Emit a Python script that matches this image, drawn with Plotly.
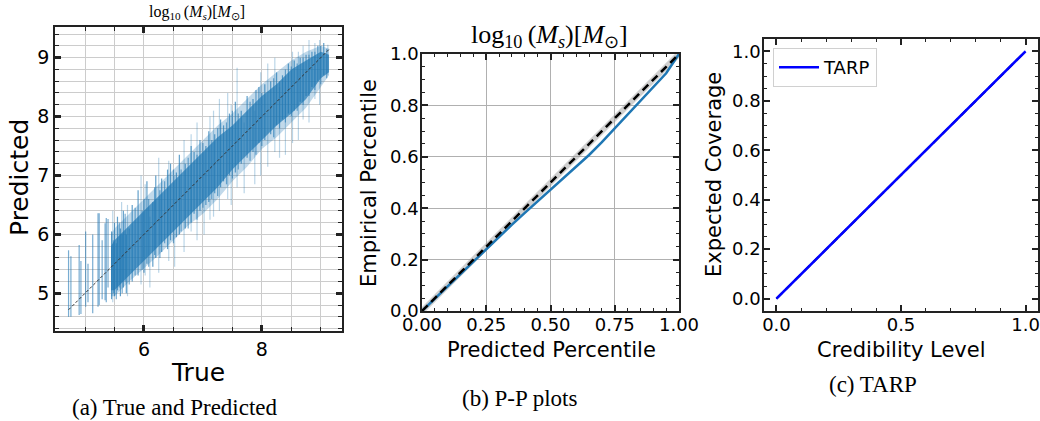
import plotly.graph_objects as go

W, H = 1040, 421
C0 = "31,119,180"

# ---------------- Panel (a): True vs Predicted ----------------
true_range = [4.72, 9.14]

band_x = [5.44, 5.5, 5.75, 6.0, 6.25, 6.5, 6.75, 7.0, 7.25, 7.5, 7.75, 8.0, 8.25, 8.5, 8.75, 9.0, 9.14]
core_lo = [5.05, 5.05, 5.3, 5.55, 5.8, 6.05, 6.3, 6.55, 6.8, 7.1, 7.35, 7.6, 7.85, 8.05, 8.3, 8.65, 8.75]
core_hi = [5.8, 5.9, 6.15, 6.4, 6.65, 6.9, 7.15, 7.4, 7.65, 7.85, 8.1, 8.35, 8.55, 8.8, 8.95, 9.1, 9.05]
mid_lo = [4.95, 4.95, 5.2, 5.42, 5.65, 5.9, 6.15, 6.35, 6.6, 6.9, 7.15, 7.45, 7.65, 7.9, 8.15, 8.5, 8.7]
mid_hi = [6.0, 6.1, 6.35, 6.6, 6.85, 7.1, 7.35, 7.6, 7.85, 8.05, 8.3, 8.55, 8.75, 8.95, 9.1, 9.2, 9.15]

# individual uncertainty bars (true value, lower, upper)
sparse_x = [4.72, 4.76, 4.90, 4.93, 5.01, 5.05, 5.13, 5.22, 5.24, 5.29, 5.34, 5.36, 5.39]
sparse_lo = [4.60, 4.60, 4.63, 4.65, 4.77, 4.85, 4.66, 4.77, 4.80, 4.90, 4.88, 4.85, 5.10]
sparse_hi = [5.73, 5.63, 5.82, 5.55, 6.05, 5.50, 6.00, 6.36, 6.36, 5.90, 6.19, 6.28, 6.26]

dark_x = [5.45, 5.5, 5.55, 5.6, 5.65, 5.7, 5.8, 5.9, 6.0, 6.05, 6.15, 6.2, 6.3, 6.4, 6.45,
          6.55, 6.6, 6.7, 6.8, 6.85, 6.95, 7.05, 7.1, 7.2, 7.3, 7.35, 7.45, 7.55, 7.65, 7.75,
          7.85, 7.95, 8.05, 8.15, 8.25, 8.35, 8.45, 8.55, 8.65, 8.75, 8.85, 8.95, 9.05]
dark_lo = [4.9, 4.95, 5.05, 4.95, 5.1, 5.0, 5.2, 5.3, 5.35, 5.5, 5.45, 5.6, 5.7, 5.75, 5.9,
           5.95, 6.0, 6.1, 6.2, 6.35, 6.4, 6.5, 6.55, 6.7, 6.8, 6.9, 7.0, 7.05, 7.2, 7.3,
           7.4, 7.55, 7.6, 7.7, 7.85, 7.95, 8.05, 8.1, 8.25, 8.35, 8.5, 8.6, 8.7]
dark_hi = [6.05, 6.2, 6.3, 6.1, 6.4, 6.0, 6.5, 6.75, 6.6, 6.9, 6.55, 7.0, 6.95, 7.1, 7.2,
           7.05, 7.35, 7.2, 7.5, 7.4, 7.6, 7.5, 7.75, 7.7, 7.95, 7.85, 8.05, 8.25, 8.1, 8.35,
           8.3, 8.5, 8.55, 8.6, 8.75, 8.7, 8.9, 8.95, 9.0, 9.05, 9.1, 9.2, 9.25]

dark2_x = [5.48, 5.53, 5.58, 5.63, 5.68, 5.75, 5.85, 5.97, 6.08, 6.18, 6.27, 6.35, 6.5, 6.63,
           6.75, 6.9, 7.0, 7.15, 7.25, 7.4, 7.5, 7.6, 7.8, 7.9, 8.0, 8.2, 8.3, 8.4, 8.5, 8.6,
           8.7, 8.8, 8.9, 9.0, 9.1]
dark2_lo = [5.0, 4.9, 5.1, 5.0, 5.2, 5.15, 5.3, 5.4, 5.45, 5.65, 5.6, 5.85, 5.85, 6.05,
            6.1, 6.25, 6.45, 6.6, 6.65, 6.85, 6.95, 7.1, 7.25, 7.35, 7.5, 7.65, 7.8, 7.9, 8.0, 8.1,
            8.2, 8.35, 8.45, 8.55, 8.65]
dark2_hi = [5.9, 5.85, 6.2, 6.0, 6.35, 6.1, 6.45, 6.4, 6.6, 6.8, 6.75, 6.9, 7.1, 7.1,
            7.3, 7.35, 7.55, 7.6, 7.8, 7.9, 8.1, 8.05, 8.25, 8.45, 8.4, 8.65, 8.6, 8.8, 8.85, 8.9,
            9.0, 9.05, 9.1, 9.2, 9.15]

light_x = [5.47, 5.62, 5.95, 6.1, 6.25, 6.52, 6.68, 6.9, 7.02, 7.18, 7.28, 7.42, 7.58, 7.7,
           7.88, 8.1, 8.3, 8.4, 8.62, 8.8, 8.98, 9.12, 5.72, 6.02, 6.42, 6.8, 7.12, 7.48, 7.98,
           8.22, 8.52, 8.7, 8.9]
light_lo = [4.85, 5.2, 5.15, 5.1, 5.35, 5.45, 5.7, 5.9, 6.0, 6.3, 6.4, 6.6, 6.8, 6.7,
            6.85, 7.15, 7.3, 7.35, 7.6, 7.9, 8.2, 8.7, 4.95, 5.3, 5.55, 6.05, 6.25, 6.5, 7.0,
            7.4, 7.55, 7.95, 8.3]
light_hi = [6.4, 6.55, 7.0, 6.3, 7.3, 7.0, 7.6, 7.9, 7.4, 8.1, 8.3, 8.4, 8.83, 7.9,
            8.1, 8.9, 8.5, 8.6, 9.1, 9.3, 9.3, 9.22, 6.5, 6.85, 7.25, 7.7, 8.0, 8.2, 8.75,
            9.0, 9.1, 9.2, 9.25]

# ---------------- Panel (b): P-P plot ----------------
pp_pred = [0, 0.05, 0.1, 0.15, 0.2, 0.25, 0.3, 0.35, 0.4, 0.45, 0.5, 0.55, 0.6, 0.65, 0.7,
           0.75, 0.8, 0.85, 0.9, 0.95, 1.0]
pp_emp = [0, 0.048, 0.097, 0.146, 0.195, 0.243, 0.29, 0.336, 0.382, 0.427, 0.47, 0.515, 0.56,
          0.607, 0.657, 0.71, 0.765, 0.818, 0.872, 0.925, 1.0]
pp_band = 0.016

# ---------------- Panel (c): TARP ----------------
tarp_cred = [0, 0.1, 0.2, 0.3, 0.4, 0.5, 0.6, 0.7, 0.8, 0.9, 1.0]
tarp_cov = [0, 0.098, 0.2, 0.3, 0.4, 0.5, 0.6, 0.7, 0.802, 0.9, 1.0]
tarp_band = 0.008


def segs(xs, los, his):
    X, Y = [], []
    for x, lo, hi in zip(xs, los, his):
        X += [x, x, None]
        Y += [lo, hi, None]
    return X, Y


fig = go.Figure()

# panel (a)
fig.add_trace(go.Scatter(x=band_x, y=mid_lo, mode="lines", line=dict(width=0), showlegend=False,
                         hoverinfo="skip", xaxis="x", yaxis="y"))
fig.add_trace(go.Scatter(x=band_x, y=mid_hi, mode="lines", line=dict(width=0), fill="tonexty",
                         fillcolor=f"rgba({C0},0.28)", showlegend=False, xaxis="x", yaxis="y"))
fig.add_trace(go.Scatter(x=band_x, y=core_lo, mode="lines", line=dict(width=0), showlegend=False,
                         hoverinfo="skip", xaxis="x", yaxis="y"))
fig.add_trace(go.Scatter(x=band_x, y=core_hi, mode="lines", line=dict(width=0), fill="tonexty",
                         fillcolor=f"rgba({C0},0.7)", showlegend=False, xaxis="x", yaxis="y"))
for xs, los, his, alpha in [(light_x, light_lo, light_hi, 0.3), (dark2_x, dark2_lo, dark2_hi, 0.6),
                            (dark_x, dark_lo, dark_hi, 0.7), (sparse_x, sparse_lo, sparse_hi, 0.6)]:
    X, Y = segs(xs, los, his)
    fig.add_trace(go.Scatter(x=X, y=Y, mode="lines", line=dict(color=f"rgba({C0},{alpha})", width=1.2),
                             showlegend=False, xaxis="x", yaxis="y"))
fig.add_trace(go.Scatter(x=true_range, y=true_range, mode="lines",
                         line=dict(color="#333333", width=1, dash="3px,2px"), showlegend=False,
                         xaxis="x", yaxis="y"))

# panel (b)
fig.add_trace(go.Scatter(x=[0, 1], y=[-pp_band, 1 - pp_band], mode="lines", line=dict(width=0),
                         showlegend=False, xaxis="x2", yaxis="y2"))
fig.add_trace(go.Scatter(x=[0, 1], y=[pp_band, 1 + pp_band], mode="lines", line=dict(width=0),
                         fill="tonexty", fillcolor="rgba(150,150,150,0.45)", showlegend=False,
                         xaxis="x2", yaxis="y2"))
fig.add_trace(go.Scatter(x=pp_pred, y=pp_emp, mode="lines", line=dict(color=f"rgb({C0})", width=2.5),
                         showlegend=False, xaxis="x2", yaxis="y2"))
fig.add_trace(go.Scatter(x=[0, 1], y=[0, 1], mode="lines",
                         line=dict(color="black", width=2.5, dash="8px,5px"), showlegend=False,
                         xaxis="x2", yaxis="y2"))

# panel (c)
fig.add_trace(go.Scatter(x=[0, 1], y=[0, 1], mode="lines",
                         line=dict(color="black", width=2, dash="8px,5px"), showlegend=False,
                         xaxis="x3", yaxis="y3"))
fig.add_trace(go.Scatter(x=tarp_cred, y=[v - tarp_band for v in tarp_cov], mode="lines",
                         line=dict(width=0), showlegend=False, xaxis="x3", yaxis="y3"))
fig.add_trace(go.Scatter(x=tarp_cred, y=[v + tarp_band for v in tarp_cov], mode="lines",
                         line=dict(width=0), fill="tonexty", fillcolor="rgba(0,0,255,0.2)",
                         showlegend=False, xaxis="x3", yaxis="y3"))
fig.add_trace(go.Scatter(x=tarp_cred, y=tarp_cov, mode="lines", name="TARP",
                         line=dict(color="#0000ff", width=2.5), showlegend=True,
                         xaxis="x3", yaxis="y3"))


def px(v):
    return v / W


def py(v):
    return 1 - v / H


FONT = "DejaVu Sans"
axis_common = dict(showline=True, linecolor="#222222", linewidth=1.5, mirror="allticks",
                   ticks="inside", tickcolor="#222222", zeroline=False, automargin=False,
                   tickfont=dict(family=FONT, size=18, color="black"))
big_tick = dict(family=FONT, size=19, color="black")

fig.update_layout(
    template="none",
    width=W, height=H, margin=dict(l=0, r=0, t=0, b=0, pad=0, autoexpand=False),
    paper_bgcolor="white", plot_bgcolor="white",
    font=dict(family=FONT, color="black"),
    xaxis=dict(domain=[px(55), px(342)], range=[4.49, 9.36], anchor="y",
               tickmode="array", tickvals=[6, 8], ticktext=["6", "8"],
               ticklen=6, tickwidth=2.5, showgrid=True, gridcolor="#cccccc", gridwidth=1,
               minor=dict(dtick=0.5, tick0=0, ticks="inside", ticklen=4, tickwidth=1,
                          showgrid=True, gridcolor="#cccccc", gridwidth=1),
               **{**axis_common, "tickfont": big_tick}),
    yaxis=dict(domain=[py(331), py(27)], range=[4.36, 9.52], anchor="x",
               tickmode="linear", tick0=5, dtick=1,
               ticklen=6, tickwidth=2.5, showgrid=True, gridcolor="#cccccc", gridwidth=1,
               minor=dict(dtick=0.2, tick0=0, ticks="inside", ticklen=4, tickwidth=1,
                          showgrid=True, gridcolor="#cccccc", gridwidth=1),
               **{**axis_common, "tickfont": big_tick}),
    xaxis2=dict(domain=[px(422), px(679)], range=[0, 1], anchor="y2",
                tickmode="linear", tick0=0, dtick=0.25, tickformat=".2f", ticklabelstandoff=-3,
                ticklen=6, tickwidth=1.5, showgrid=True, gridcolor="#b0b0b0", gridwidth=1,
                minor=dict(dtick=0.05, tick0=0, ticks="inside", ticklen=3.5, tickwidth=1,
                           showgrid=False),
                **axis_common),
    yaxis2=dict(domain=[py(311), py(54)], range=[0, 1], anchor="x2",
                tickmode="linear", tick0=0, dtick=0.2, tickformat=".1f", ticklabelstandoff=-2,
                ticklen=6, tickwidth=1.5, showgrid=True, gridcolor="#b0b0b0", gridwidth=1,
                minor=dict(dtick=0.05, tick0=0, ticks="inside", ticklen=3.5, tickwidth=1,
                           showgrid=False),
                **axis_common),
    xaxis3=dict(domain=[px(764), px(1038)], range=[-0.05, 1.05], anchor="y3",
                tickmode="linear", tick0=0, dtick=0.5, tickformat=".1f", ticklabelstandoff=-3,
                ticklen=6, tickwidth=1.5, showgrid=False,
                minor=dict(dtick=0.1, tick0=0, ticks="inside", ticklen=3.5, tickwidth=1,
                           showgrid=False),
                **axis_common),
    yaxis3=dict(domain=[py(311), py(39)], range=[-0.05, 1.05], anchor="x3",
                tickmode="linear", tick0=0, dtick=0.2, tickformat=".1f", ticklabelstandoff=-2,
                ticklen=6, tickwidth=1.5, showgrid=False,
                minor=dict(dtick=0.05, tick0=0, ticks="inside", ticklen=3.5, tickwidth=1,
                           showgrid=False),
                **axis_common),
    legend=dict(x=px(773), y=py(48), xanchor="left", yanchor="top", itemwidth=40,
                bgcolor="white", bordercolor="#d0d0d0", borderwidth=1,
                font=dict(family=FONT, size=18, color="black")),
)

SERIF = "Liberation Serif"
math_title = "log<sub>10</sub>\u2009(<i>M<sub>s</sub></i>)[<i>M</i><sub>\u2299</sub>]"
ann = [
    # titles
    dict(x=px(197), y=py(13), text=math_title, font=dict(family=SERIF, size=16)),
    dict(x=px(549), y=py(36), text=math_title, font=dict(family=SERIF, size=26)),
    # axis titles
    dict(x=px(19), y=py(178), text="Predicted", textangle=-90, font=dict(family=FONT, size=25)),
    dict(x=px(198), y=py(372), text="True", font=dict(family=FONT, size=25)),
    dict(x=px(369), y=py(183), text="Empirical Percentile", textangle=-90, font=dict(family=FONT, size=21)),
    dict(x=px(551), y=py(350), text="Predicted Percentile", font=dict(family=FONT, size=21)),
    dict(x=px(714), y=py(175), text="Expected Coverage", textangle=-90, font=dict(family=FONT, size=21)),
    dict(x=px(901), y=py(350), text="Credibility Level", font=dict(family=FONT, size=21)),
    # captions
    dict(x=px(175), y=py(407), text="(a) True and Predicted", font=dict(family=SERIF, size=23)),
    dict(x=px(519), y=py(398), text="(b) P-P plots", font=dict(family=SERIF, size=23)),
    dict(x=px(873), y=py(384), text="(c) TARP", font=dict(family=SERIF, size=23)),
]
for a in ann:
    a.update(xref="paper", yref="paper", showarrow=False, xanchor="center", yanchor="middle")
    a["font"]["color"] = "black"
fig.update_layout(annotations=ann)

fig.write_html("out.html", config={"displayModeBar": False},
               post_script="document.body.style.margin='0px';document.body.style.overflow='hidden';")
